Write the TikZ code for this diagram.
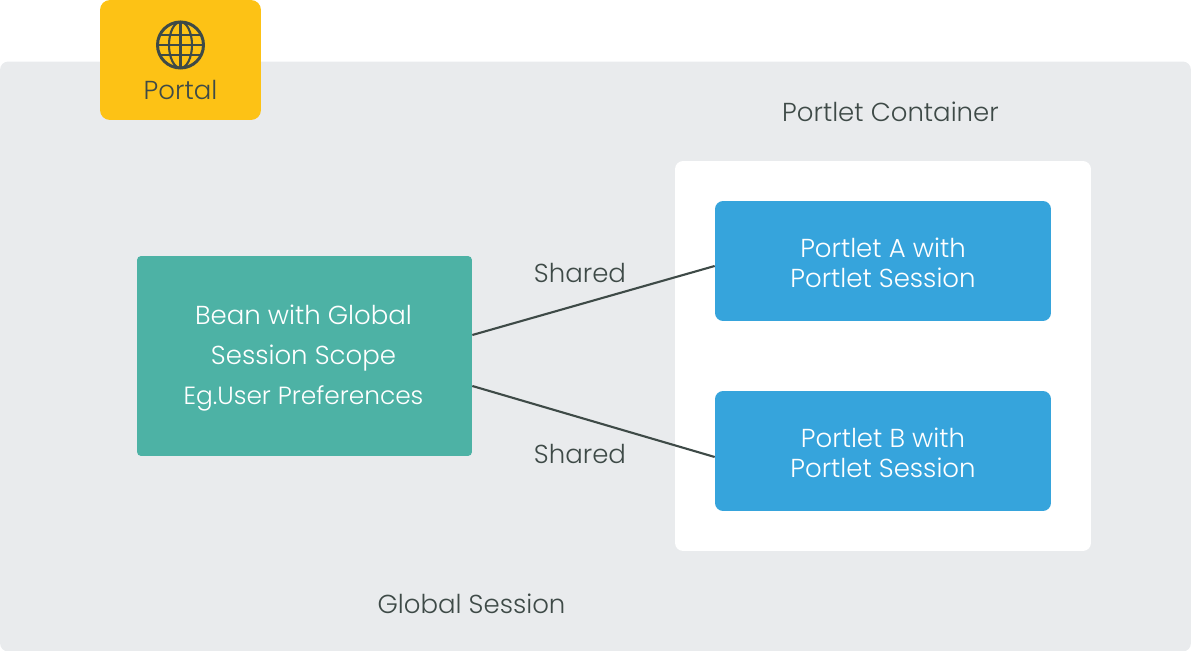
\documentclass[tikz,border=0pt]{standalone}
\usepackage{fontspec}
\setmainfont{Poppins}[UprightFont={* Light},BoldFont={* Medium}]
\definecolor{sessiongray}{HTML}{E9EBED}
\definecolor{portalyellow}{HTML}{FDC215}
\definecolor{portletblue}{HTML}{36A4DC}
\definecolor{beanteal}{HTML}{4DB2A5}
\definecolor{inkgray}{HTML}{3E4A47}
\begin{document}
\begin{tikzpicture}[
    x=0.02cm, y=-0.02cm,
    box/.style={rectangle, rounded corners=1.6mm, minimum width=6.72cm, minimum height=2.4cm, inner sep=0pt},
    boxtext/.style={inner sep=0pt, text=white, font=\fontsize{14.8}{16.9}\selectfont, align=center},
    caption/.style={inner sep=0pt, text=inkgray, font=\fontsize{14.8}{17}\selectfont},
    link/.style={line width=1.2pt, inkgray},
]
\useasboundingbox (0,0) rectangle (1191,651);

% Global session and container
\node[rectangle, rounded corners=1.6mm, fill=sessiongray, minimum width=23.82cm, minimum height=11.8cm, inner sep=0pt] (session) at (595.5,356.5) {};
\node[rectangle, rounded corners=1.6mm, fill=white, minimum width=8.32cm, minimum height=7.8cm, inner sep=0pt] (container) at (883,356) {};
\node[caption] (sessionlabel) at (471.5,604) {Global Session};
\node[caption] (containerlabel) at (890.5,112) {Portlet Container};

% Portal
\node[rectangle, rounded corners=2mm, fill=portalyellow, minimum width=3.22cm, minimum height=2.4cm, inner sep=0pt] (portal) at (180.5,60) {};
\node[caption] (portallabel) at (180.5,89.5) {Portal};
\node[circle, draw=inkgray, line width=1.7pt, minimum size=0.92cm, inner sep=0pt] (globe) at (180.5,45) {};
\draw[inkgray, line width=1.2pt] (globe.center) ellipse (11.5 and 23);
\draw[inkgray, line width=1.2pt] (globe.north) -- (globe.south);
\draw[inkgray, line width=1.2pt] (globe.west) -- (globe.east);
\draw[inkgray, line width=1.2pt] (160,35) -- (201,35);
\draw[inkgray, line width=1.2pt] (160,55) -- (201,55);

% Bean and portlets
\node[box, fill=beanteal, minimum height=4cm, rounded corners=0.8mm, minimum width=6.7cm] (bean) at (304.5,356) {};
\node[boxtext, font=\fontsize{14.8}{22.7}\selectfont] (beantext) at (303.5,358) {Bean with Global\\Session Scope\\{\fontsize{14.15}{22.7}\selectfont Eg.User Preferences}};
\node[box, fill=portletblue] (porta) at (883,261) {};
\node[boxtext] (portatext) at (883,263) {Portlet A with\\Portlet Session};
\node[box, fill=portletblue] (portb) at (883,451) {};
\node[boxtext] (portbtext) at (883,453) {Portlet B with\\Portlet Session};

% Links
\draw[link] ([yshift=0.42cm]bean.east) -- ([yshift=-0.1cm]porta.west);
\draw[link] ([yshift=-0.6cm]bean.east) -- ([yshift=-0.12cm]portb.west);
\node[caption] (sharedtop) at (580,273) {Shared};
\node[caption] (sharedbottom) at (580,454) {Shared};
\end{tikzpicture}
\end{document}
